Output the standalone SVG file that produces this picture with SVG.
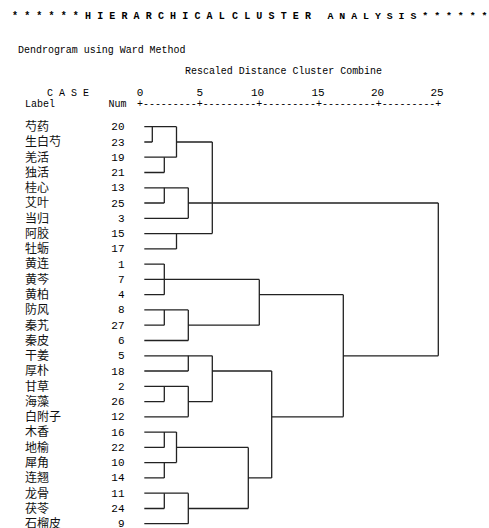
<svg xmlns="http://www.w3.org/2000/svg" width="489" height="528" viewBox="0 0 489 528">
<style>
.m{font-family:"Liberation Mono","DejaVu Sans Mono",monospace;font-size:11px;fill:#000}
.t{font-family:"Liberation Mono","DejaVu Sans Mono",monospace;font-size:10px;font-weight:bold;fill:#000}
.lb{font-family:"Noto Sans CJK SC","Noto Sans",sans-serif;font-size:12px;fill:#111}
.n{font-family:"Liberation Mono","DejaVu Sans Mono",monospace;font-size:11px;fill:#000;text-anchor:end}
.ax{font-family:"Liberation Mono","DejaVu Sans Mono",monospace;font-size:11px;fill:#000;text-anchor:middle}
.ln{fill:none;stroke:#222;stroke-width:1.3}
</style>
<rect width="489" height="528" fill="#fff"/>
<g id="header">
<text class="t" x="12" y="18.5" letter-spacing="0.08">* * * * * * H I E R A R C H I C A L</text>
<text class="t" x="232" y="18.5" letter-spacing="0.08">C L U S T E R</text>
<text class="t" x="327.5" y="18.5" style="font-size:9.9px">A N A L Y S I S * * * * * *</text>
<text class="m" x="18" y="53" textLength="167.5" lengthAdjust="spacingAndGlyphs">Dendrogram using Ward Method</text>
<text class="m" x="185" y="74" textLength="197" lengthAdjust="spacingAndGlyphs">Rescaled Distance Cluster Combine</text>
<text class="m" x="47" y="96" textLength="42" lengthAdjust="spacingAndGlyphs">C A S E</text>
<text class="m" x="25" y="107" textLength="30" lengthAdjust="spacingAndGlyphs">Label</text>
<text class="m" x="108.5" y="107" textLength="18" lengthAdjust="spacingAndGlyphs">Num</text>
<text class="ax" x="140" y="96">0</text>
<text class="ax" x="199.7" y="96">5</text>
<text class="ax" x="257.5" y="96">10</text>
<text class="ax" x="318" y="96">15</text>
<text class="ax" x="377.5" y="96">20</text>
<text class="ax" x="437" y="96">25</text>
<text class="m" x="137" y="107" textLength="304.3" lengthAdjust="spacingAndGlyphs">+---------+---------+---------+---------+---------+</text>
</g>
<g id="n20"><text class="lb" x="25" y="131">芍药</text><text class="n" x="124.5" y="130.2">20</text></g>
<g id="n23"><text class="lb" x="25" y="146.3">生白芍</text><text class="n" x="124.5" y="145.5">23</text></g>
<g id="n19"><text class="lb" x="25" y="161.5">羌活</text><text class="n" x="124.5" y="160.7">19</text></g>
<g id="n21"><text class="lb" x="25" y="176.8">独活</text><text class="n" x="124.5" y="176">21</text></g>
<g id="n13"><text class="lb" x="25" y="192.1">桂心</text><text class="n" x="124.5" y="191.3">13</text></g>
<g id="n25"><text class="lb" x="25" y="207.3">艾叶</text><text class="n" x="124.5" y="206.5">25</text></g>
<g id="n3"><text class="lb" x="25" y="222.6">当归</text><text class="n" x="124.5" y="221.8">3</text></g>
<g id="n15"><text class="lb" x="25" y="237.9">阿胶</text><text class="n" x="124.5" y="237.1">15</text></g>
<g id="n17"><text class="lb" x="25" y="253.2">牡蛎</text><text class="n" x="124.5" y="252.4">17</text></g>
<g id="n1"><text class="lb" x="25" y="268.4">黄连</text><text class="n" x="124.5" y="267.6">1</text></g>
<g id="n7"><text class="lb" x="25" y="283.7">黄芩</text><text class="n" x="124.5" y="282.9">7</text></g>
<g id="n4"><text class="lb" x="25" y="299">黄柏</text><text class="n" x="124.5" y="298.2">4</text></g>
<g id="n8"><text class="lb" x="25" y="314.2">防风</text><text class="n" x="124.5" y="313.4">8</text></g>
<g id="n27"><text class="lb" x="25" y="329.5">秦艽</text><text class="n" x="124.5" y="328.7">27</text></g>
<g id="n6"><text class="lb" x="25" y="344.8">秦皮</text><text class="n" x="124.5" y="344">6</text></g>
<g id="n5"><text class="lb" x="25" y="360.1">干姜</text><text class="n" x="124.5" y="359.3">5</text></g>
<g id="n18"><text class="lb" x="25" y="375.3">厚朴</text><text class="n" x="124.5" y="374.5">18</text></g>
<g id="n2"><text class="lb" x="25" y="390.6">甘草</text><text class="n" x="124.5" y="389.8">2</text></g>
<g id="n26"><text class="lb" x="25" y="405.9">海藻</text><text class="n" x="124.5" y="405.1">26</text></g>
<g id="n12"><text class="lb" x="25" y="421.1">白附子</text><text class="n" x="124.5" y="420.3">12</text></g>
<g id="n16"><text class="lb" x="25" y="436.4">木香</text><text class="n" x="124.5" y="435.6">16</text></g>
<g id="n22"><text class="lb" x="25" y="451.7">地榆</text><text class="n" x="124.5" y="450.9">22</text></g>
<g id="n10"><text class="lb" x="25" y="466.9">犀角</text><text class="n" x="124.5" y="466.1">10</text></g>
<g id="n14"><text class="lb" x="25" y="482.2">连翘</text><text class="n" x="124.5" y="481.4">14</text></g>
<g id="n11"><text class="lb" x="25" y="497.5">龙骨</text><text class="n" x="124.5" y="496.7">11</text></g>
<g id="n24"><text class="lb" x="25" y="512.8">茯苓</text><text class="n" x="124.5" y="512">24</text></g>
<g id="n9"><text class="lb" x="25" y="527.6">石榴皮</text><text class="n" x="124.5" y="527.2">9</text></g>
<g id="connectors" class="ln">
<path d="M144.3 126.7H176.5M144.3 142H152.3M144.3 157.2H176.5M144.3 172.5H164.3M144.3 187.8H188.3M144.3 203H164.3M144.3 218.3H188.3M144.3 233.6H212.3M144.3 248.9H176.5M144.3 264.1H164.3M144.3 279.4H259.3M144.3 294.7H164.3M144.3 309.9H188.3M144.3 325.2H164.3M144.3 340.5H188.3M144.3 355.8H212.3M144.3 371H188.3M144.3 386.3H188.3M144.3 401.6H164.3M144.3 416.8H188.3M144.3 432.1H176.5M144.3 447.4H164.3M144.3 462.6H176.5M144.3 477.9H164.3M144.3 493.2H188.3M144.3 508.5H164.3M144.3 523.7H188.3"/>
<path d="M152.3 126.7V142M164.3 157.2V172.5M176.5 126.7V157.2M176.5 142H212.3"/>
<path d="M164.3 187.8V203M188.3 187.8V218.3M188.3 203H438.3"/>
<path d="M176.5 233.6V248.9M212.3 142V233.6"/>
<path d="M164.3 264.1V294.7M164.3 309.9V325.2M188.3 309.9V340.5M188.3 325.2H259.3M259.3 279.4V325.2M259.3 294.7H343.3"/>
<path d="M188.3 355.8V371M164.3 386.3V401.6M188.3 386.3V416.8M188.3 401.6H212.3M212.3 355.8V401.6M212.3 371H271.7"/>
<path d="M164.3 432.1V447.4M164.3 462.6V477.9M176.5 432.1V462.6M176.5 447.4H248.3"/>
<path d="M164.3 493.2V508.5M188.3 493.2V523.7M188.3 508.5H248.3M248.3 447.4V508.5M248.3 477.9H271.7"/>
<path d="M271.7 371V477.9M271.7 416.8H343.3M343.3 294.7V416.8M343.3 355.8H438.3M438.3 203V355.8"/>
</g>
</svg>
